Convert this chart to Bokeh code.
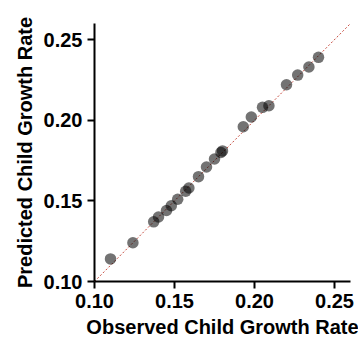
from bokeh.plotting import figure
from bokeh.models import Range1d, FixedTicker, CustomJSTickFormatter
from bokeh.embed import file_html
from bokeh.resources import INLINE

observed = [0.110, 0.124, 0.137, 0.140, 0.145, 0.148, 0.152, 0.157, 0.159, 0.165, 0.170,
            0.175, 0.179, 0.180, 0.193, 0.198, 0.205, 0.209, 0.220, 0.227, 0.234, 0.240]
predicted = [0.114, 0.124, 0.137, 0.140, 0.144, 0.147, 0.151, 0.156, 0.158, 0.165, 0.171,
             0.176, 0.180, 0.181, 0.196, 0.202, 0.208, 0.209, 0.222, 0.228, 0.233, 0.239]
ticks = [0.10, 0.15, 0.20, 0.25]
axis_min, axis_max = 0.10, 0.26
identity = [axis_min, axis_max]

p = figure(width=358, height=342, output_backend="svg", toolbar_location=None,
           x_range=Range1d(axis_min, axis_max), y_range=Range1d(axis_min, axis_max),
           min_border_left=94, min_border_right=8, min_border_top=23, min_border_bottom=61)
p.outline_line_color = None
p.grid.visible = False

p.line(identity, identity, line_color="#c0392b", line_dash="2 2", line_width=1, line_alpha=0.9)
p.scatter(observed, predicted, size=11.5, fill_color="black", fill_alpha=0.55, line_color=None)

fmt = CustomJSTickFormatter(code="return tick.toFixed(2);")
for ax in (p.xaxis[0], p.yaxis[0]):
    ax.ticker = FixedTicker(ticks=ticks)
    ax.formatter = fmt
    ax.axis_line_width = 2
    ax.major_tick_line_width = 2
    ax.major_tick_in = 0
    ax.major_tick_out = 7
    ax.minor_tick_line_color = None
    ax.major_label_text_font = "Liberation Sans"
    ax.major_label_text_font_style = "bold"
    ax.major_label_text_font_size = "20px"
    ax.major_label_text_color = "black"
    ax.major_label_standoff = 5
    ax.axis_label_text_font = "Liberation Sans"
    ax.axis_label_text_font_style = "bold"
    ax.axis_label_text_font_size = "20px"
    ax.axis_label_text_color = "black"
    ax.axis_label_standoff = 5

p.xaxis[0].axis_label = "Observed Child Growth Rate"
p.yaxis[0].axis_label = "Predicted Child Growth Rate"

open("out.html", "w").write(file_html(p, INLINE))
